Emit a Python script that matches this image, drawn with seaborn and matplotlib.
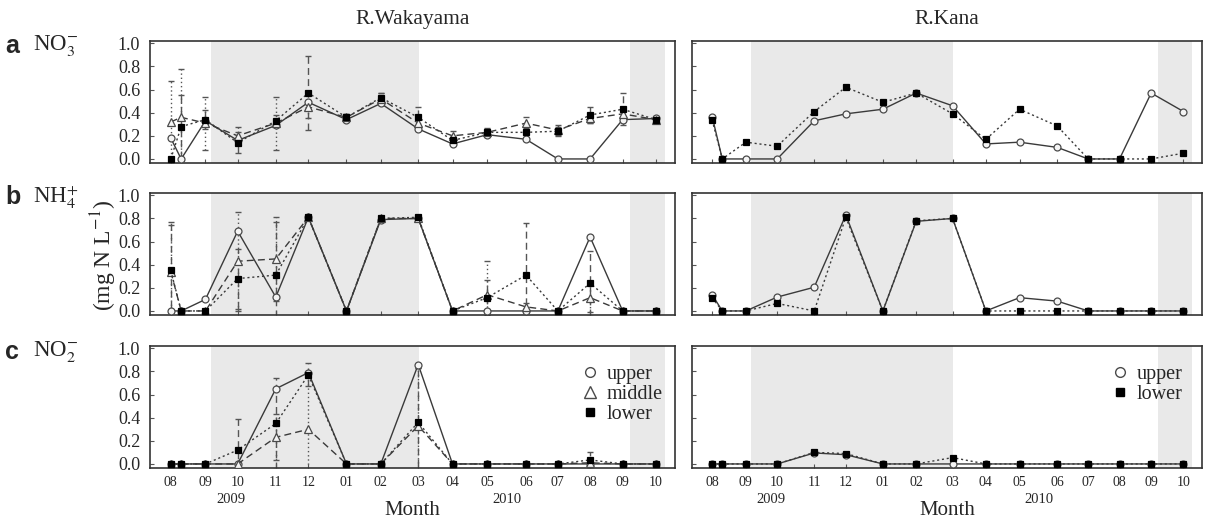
import numpy as np
import pandas as pd
import matplotlib
matplotlib.use("Agg")
import matplotlib.pyplot as plt
import matplotlib.transforms as mtransforms
from matplotlib.lines import Line2D
import seaborn as sns

# ---------------- data ----------------
sample_pos = [0.0, 0.3, 1.0, 1.93, 3.03, 3.97, 5.07, 6.06, 7.14, 8.13, 9.13, 10.25, 11.17, 12.10, 13.04, 14.0]
tick_idx = [0, 2, 3, 4, 5, 6, 7, 8, 9, 10, 11, 12, 13, 14, 15]
month_labels = ['08', '09', '10', '11', '12', '01', '02', '03', '04', '05', '06', '07', '08', '09', '10']
year_labels = ['2009', '2010']
year_pos = [1.75, 9.7]
shade_periods = [(1.15, 7.15), (13.25, 14.25)]

# R.Wakayama
wk_no3_upper = [0.18, 0.0, 0.33, 0.16, 0.29, 0.49, 0.34, 0.48, 0.26, 0.13, 0.21, 0.17, 0.0, 0.0, 0.34, 0.35]
wk_no3_middle = [0.32, 0.36, 0.31, 0.20, 0.31, 0.45, 0.36, 0.52, 0.31, 0.20, 0.23, 0.31, 0.25, 0.35, 0.39, 0.34]
wk_no3_lower = [0.0, 0.28, 0.34, 0.14, 0.33, 0.57, 0.36, 0.53, 0.36, 0.16, 0.23, 0.23, 0.24, 0.38, 0.43, 0.34]
wk_no3_middle_err = [0.35, 0.42, 0.23, 0.08, 0.23, 0.10, 0.03, 0.05, 0.05, 0.04, 0.03, 0.05, 0.04, 0.04, 0.05, 0.02]
wk_no3_lower_err = [0.0, 0.27, 0.08, 0.09, 0.05, 0.32, 0.03, 0.04, 0.09, 0.04, 0.04, 0.04, 0.04, 0.07, 0.14, 0.03]

wk_nh4_upper = [0.0, 0.0, 0.10, 0.69, 0.12, 0.81, 0.0, 0.79, 0.80, 0.0, 0.0, 0.0, 0.0, 0.64, 0.0, 0.0]
wk_nh4_middle = [0.34, 0.0, 0.0, 0.43, 0.45, 0.81, 0.0, 0.80, 0.80, 0.0, 0.14, 0.035, 0.0, 0.115, 0.0, 0.0]
wk_nh4_lower = [0.35, 0.0, 0.0, 0.28, 0.31, 0.81, 0.0, 0.80, 0.81, 0.0, 0.115, 0.31, 0.0, 0.24, 0.0, 0.0]
wk_nh4_middle_err = [0.40, 0, 0, 0.43, 0.36, 0.02, 0, 0.02, 0.02, 0, 0.29, 0.03, 0, 0.12, 0, 0]
wk_nh4_lower_err = [0.42, 0, 0, 0.26, 0.46, 0.02, 0, 0.02, 0.02, 0, 0.15, 0.45, 0, 0.28, 0, 0]

wk_no2_upper = [0, 0, 0, 0, 0.65, 0.79, 0, 0, 0.86, 0, 0, 0, 0, 0, 0, 0]
wk_no2_middle = [0, 0, 0, 0, 0.23, 0.30, 0, 0, 0.33, 0, 0, 0, 0, 0.01, 0, 0]
wk_no2_lower = [0, 0, 0, 0.12, 0.35, 0.77, 0, 0, 0.36, 0, 0, 0, 0, 0.035, 0, 0]
wk_no2_middle_err = [0, 0, 0, 0, 0.20, 0.45, 0, 0, 0.50, 0, 0, 0, 0, 0.01, 0, 0]
wk_no2_lower_err = [0, 0, 0, 0.27, 0.39, 0.10, 0, 0, 0.47, 0, 0, 0, 0, 0.065, 0, 0]

# R.Kana
kn_no3_upper = [0.365, 0, 0, 0, 0.33, 0.39, 0.43, 0.57, 0.46, 0.13, 0.145, 0.10, 0, 0, 0.57, 0.41]
kn_no3_lower = [0.335, 0, 0.145, 0.11, 0.41, 0.62, 0.49, 0.57, 0.39, 0.17, 0.43, 0.285, 0, 0, 0, 0.05]
kn_nh4_upper = [0.14, 0, 0, 0.12, 0.205, 0.83, 0, 0.775, 0.80, 0, 0.115, 0.085, 0, 0, 0, 0]
kn_nh4_lower = [0.115, 0, 0, 0.065, 0, 0.81, 0, 0.78, 0.80, 0, 0, 0, 0, 0, 0, 0]
kn_no2_upper = [0, 0, 0, 0, 0.095, 0.08, 0, 0, 0, 0, 0, 0, 0, 0, 0, 0]
kn_no2_lower = [0, 0, 0, 0, 0.10, 0.09, 0, 0, 0.055, 0, 0, 0, 0, 0, 0, 0]

river_titles = ['R.Wakayama', 'R.Kana']
panel_letters = ['a', 'b', 'c']
panel_species = [r'NO$_3^{-}$', r'NH$_4^{+}$', r'NO$_2^{-}$']
y_ticks = [0.0, 0.2, 0.4, 0.6, 0.8, 1.0]

# ---------------- style ----------------
sns.set_theme(style="ticks")
plt.rcParams['font.family'] = ['Liberation Serif', 'DejaVu Serif']
plt.rcParams['mathtext.fontset'] = 'stix'
plt.rcParams['axes.edgecolor'] = '#333333'

LINE_C = '#3a3a3a'
MARK_EDGE = '#4a4a4a'
SHADE = '#e9e9e9'

fig = plt.figure(figsize=(12.17, 5.18), dpi=100)

col_x = [(150 / 1217, 525 / 1217), (692 / 1217, 510 / 1217)]
row_y = [1 - 163 / 518, 1 - 315 / 518, 1 - 468 / 518]
row_h = 122 / 518

series_style = {
    'upper': dict(ls='-', marker='o', mfc='#f4f4f4', ms=5),
    'middle': dict(ls=(0, (5, 3)), marker='^', mfc='#f4f4f4', ms=5.5),
    'lower': dict(ls=(0, (1.5, 2)), marker='s', mfc='black', ms=4),
}

wk = [
    {'upper': wk_no3_upper, 'middle': wk_no3_middle, 'lower': wk_no3_lower,
     'middle_err': wk_no3_middle_err, 'lower_err': wk_no3_lower_err},
    {'upper': wk_nh4_upper, 'middle': wk_nh4_middle, 'lower': wk_nh4_lower,
     'middle_err': wk_nh4_middle_err, 'lower_err': wk_nh4_lower_err},
    {'upper': wk_no2_upper, 'middle': wk_no2_middle, 'lower': wk_no2_lower,
     'middle_err': wk_no2_middle_err, 'lower_err': wk_no2_lower_err},
]
kn = [
    {'upper': kn_no3_upper, 'lower': kn_no3_lower},
    {'upper': kn_nh4_upper, 'lower': kn_nh4_lower},
    {'upper': kn_no2_upper, 'lower': kn_no2_lower},
]

x = np.array(sample_pos)


def draw_errors(ax, vals, errs, ls):
    vals = np.array(vals, dtype=float)
    errs = np.array(errs, dtype=float)
    m = errs > 0.015
    if not m.any():
        return
    eb = ax.errorbar(x[m], vals[m], yerr=errs[m], fmt='none', ecolor='#555555',
                     elinewidth=1.0, capsize=2.5, capthick=1.0, zorder=2)
    for lc in eb[2]:
        lc.set_linestyle(ls)


for c, data_rows in enumerate([wk, kn]):
    for r in range(3):
        ax = fig.add_axes([col_x[c][0], row_y[r], col_x[c][1], row_h])
        for a0, a1 in shade_periods:
            ax.axvspan(a0, a1, color=SHADE, lw=0, zorder=0)
        d = data_rows[r]
        if c == 0:
            draw_errors(ax, d['middle'], d['middle_err'], (0, (1, 2)))
            draw_errors(ax, d['lower'], d['lower_err'], (0, (5, 3)))
        for key in ['upper', 'middle', 'lower']:
            if key not in d:
                continue
            st = series_style[key]
            df = pd.DataFrame({'x': x, 'y': d[key]})
            sns.lineplot(data=df, x='x', y='y', ax=ax, sort=False, color=LINE_C,
                         linewidth=1.0, zorder=3)
            line = ax.lines[-1]
            line.set_linestyle(st['ls'])
            line.set_marker(st['marker'])
            line.set_markersize(st['ms'])
            line.set_markerfacecolor(st['mfc'])
            line.set_markeredgecolor(MARK_EDGE if key != 'lower' else 'black')
            line.set_markeredgewidth(0.9)
        ax.set_xlim(-0.6, 14.55)
        ax.set_ylim(-0.035, 1.02)
        ax.set_yticks(y_ticks)
        ax.set_xlabel('')
        ax.set_ylabel('')
        ax.set_xticks([sample_pos[i] for i in tick_idx])
        ax.tick_params(direction='in', length=3, width=0.8, color='#555555')
        if c == 0:
            ax.set_yticklabels([f'{v:.1f}' for v in y_ticks], fontsize=13)
            ax.tick_params(axis='y', pad=7)
        else:
            ax.set_yticklabels([])
        if r == 2:
            ax.set_xticklabels(month_labels, fontsize=10)
            ax.tick_params(axis='x', pad=6)
            trans = mtransforms.blended_transform_factory(ax.transData, ax.transAxes)
            for yl, yp in zip(year_labels, year_pos):
                ax.text(yp, -0.26, yl, transform=trans, ha='center', va='center', fontsize=10.5)
            ax.text(0.5, -0.35, 'Month', transform=ax.transAxes, ha='center', va='center', fontsize=15)
        else:
            ax.set_xticklabels([])
        for sp in ax.spines.values():
            sp.set_linewidth(1.2)
            sp.set_color('#333333')
        if r == 0:
            ax.set_title(river_titles[c], fontsize=15.5, pad=12)
        if r == 2:
            if c == 0:
                handles = [Line2D([], [], ls='none', marker='o', mfc='white', mec=MARK_EDGE, ms=7),
                           Line2D([], [], ls='none', marker='^', mfc='white', mec=MARK_EDGE, ms=8),
                           Line2D([], [], ls='none', marker='s', mfc='black', mec='black', ms=6)]
                labels = ['upper', 'middle', 'lower']
            else:
                handles = [Line2D([], [], ls='none', marker='o', mfc='white', mec=MARK_EDGE, ms=7),
                           Line2D([], [], ls='none', marker='s', mfc='black', mec='black', ms=6)]
                labels = ['upper', 'lower']
            ax.legend(handles, labels, loc='upper left', bbox_to_anchor=(0.8, 0.91), frameon=False,
                      fontsize=14.5, handletextpad=0.2, labelspacing=0.05, borderaxespad=0,
                      handlelength=1.2)

# panel letters
for r, (letter, sp) in enumerate(zip(panel_letters, panel_species)):
    ytop = [46, 197, 352][r]
    fig.text(5 / 1217, 1 - ytop / 518, letter, fontsize=18, fontweight='bold',
             family=['Liberation Sans', 'DejaVu Sans'], va='center', ha='left')
    fig.text(33 / 1217, 1 - ytop / 518, sp, fontsize=16.5, va='center', ha='left')

fig.text(104 / 1217, 1 - 255 / 518, r'(mg N L$^{-1}$)', rotation=90, fontsize=17,
         va='center', ha='center')

fig.savefig('out.png', dpi=100)
